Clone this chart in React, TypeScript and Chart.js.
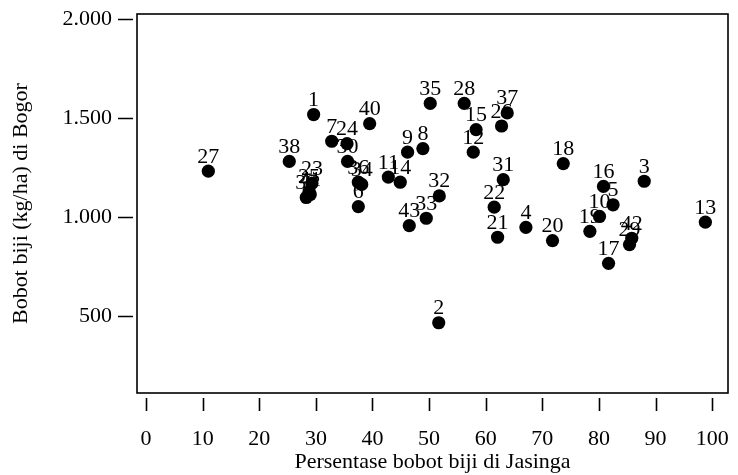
import React, { useEffect, useRef } from "react";
import { Chart, registerables } from "chart.js";

Chart.register(...registerables);

// Genotype numbers (point labels)
const genotypeIds = [
  1, 2, 3, 4, 5, 6, 7, 8, 9, 10, 11, 12, 13, 14, 15, 16, 17, 18, 19, 20, 21,
  22, 23, 24, 25, 26, 27, 28, 29, 30, 31, 32, 33, 34, 35, 36, 37, 38, 39, 40,
  41, 42, 43,
];

// Persentase bobot biji di Jasinga (%)
const jasingaPct = [
  29.6, 51.7, 88.0, 67.1, 82.5, 37.5, 32.8, 48.9, 46.2, 80.1, 42.8, 57.8, 98.8,
  44.9, 58.3, 80.8, 81.7, 73.7, 78.4, 71.8, 62.1, 61.5, 29.3, 35.5, 28.8, 62.8,
  11.0, 56.2, 85.4, 35.6, 63.1, 51.8, 49.5, 38.1, 50.2, 37.5, 63.8, 25.3, 28.3,
  39.5, 29.0, 85.8, 46.5,
];

// Bobot biji (kg/ha) di Bogor
const bogorYield = [
  1517, 465, 1180, 947, 1061, 1052, 1382, 1345, 1327, 1002, 1201, 1327, 973,
  1175, 1441, 1154, 765, 1269, 927, 880, 897, 1049, 1169, 1370, 1128, 1459,
  1231, 1573, 860, 1280, 1188, 1106, 993, 1164, 1573, 1175, 1525, 1280, 1098,
  1471, 1113, 892, 956,
];

const xTickValues = [0, 10, 20, 30, 40, 50, 60, 70, 80, 90, 100];
const yTickValues = [500, 1000, 1500, 2000];
const yTickLabels = ["500", "1.000", "1.500", "2.000"];

const xTitle = "Persentase bobot biji di Jasinga";
const yTitle = "Bobot biji (kg/ha) di Bogor";

const FONT_FAMILY = '"Liberation Serif", "Times New Roman", serif';
const FONT_SIZE = 22;

const framePlugin = {
  id: "frameAndLabels",
  beforeDatasetsDraw(chart: any) {
    const { ctx, chartArea: a, scales } = chart;
    ctx.save();
    ctx.strokeStyle = "#000";
    ctx.lineWidth = 1.6;
    ctx.strokeRect(a.left, a.top, a.right - a.left, a.bottom - a.top);
    ctx.beginPath();
    for (const v of xTickValues) {
      const px = Math.round(scales.x.getPixelForValue(v)) + 0.5;
      ctx.moveTo(px, a.bottom + 5);
      ctx.lineTo(px, a.bottom + 18);
    }
    for (const v of yTickValues) {
      const py = Math.round(scales.y.getPixelForValue(v)) + 0.5;
      ctx.moveTo(a.left - 19, py);
      ctx.lineTo(a.left - 4, py);
    }
    ctx.stroke();

    // point labels (drawn beneath the dots)
    ctx.fillStyle = "#000";
    ctx.font = `${FONT_SIZE}px ${FONT_FAMILY}`;
    ctx.textAlign = "center";
    ctx.textBaseline = "alphabetic";
    const meta = chart.getDatasetMeta(0);
    meta.data.forEach((pt: any, i: number) => {
      ctx.fillText(String(genotypeIds[i]), pt.x, pt.y - 8.5);
    });
    ctx.restore();
  },
};

export default function App() {
  const canvasRef = useRef<HTMLCanvasElement | null>(null);

  useEffect(() => {
    if (!canvasRef.current) return;
    const points = jasingaPct.map((x, i) => ({ x, y: bogorYield[i] }));
    const font = { family: FONT_FAMILY, size: FONT_SIZE };
    const chart = new Chart(canvasRef.current, {
      type: "scatter",
      data: {
        datasets: [
          {
            data: points,
            backgroundColor: "#000",
            borderWidth: 0,
            pointRadius: 6.6,
            pointHoverRadius: 6.6,
          },
        ],
      },
      options: {
        animation: false,
        responsive: false,
        devicePixelRatio: 1,
        layout: { padding: { top: 14, right: 10, left: 0, bottom: 0 } },
        plugins: {
          legend: { display: false },
          tooltip: { enabled: false },
        },
        scales: {
          x: {
            type: "linear",
            min: -1.6,
            max: 102.8,
            afterBuildTicks: (s: any) => {
              s.ticks = xTickValues.map((v) => ({ value: v }));
            },
            afterFit: (s: any) => {
              s.height = 82;
              s.paddingLeft = 0;
              s.paddingRight = 0;
            },
            ticks: {
              font,
              color: "#000",
              padding: 14,
              maxRotation: 0,
              autoSkip: false,
              callback: (v: any) => String(v),
            },
            grid: {
              display: true,
              drawOnChartArea: false,
              drawTicks: true,
              tickLength: 19,
              color: "rgba(0,0,0,0)",
            },
            border: { display: false },
            title: {
              display: true,
              text: xTitle,
              font,
              color: "#000",
              padding: { top: 0, bottom: 0 },
            },
          },
          y: {
            type: "linear",
            min: 110,
            max: 2025,
            afterBuildTicks: (s: any) => {
              s.ticks = yTickValues.map((v) => ({ value: v }));
            },
            afterFit: (s: any) => {
              s.width = 137;
              s.paddingTop = 0;
              s.paddingBottom = 0;
            },
            ticks: {
              font,
              color: "#000",
              padding: 6,
              autoSkip: false,
              callback: (v: any) => {
                const idx = yTickValues.indexOf(Number(v));
                return idx >= 0 ? yTickLabels[idx] : "";
              },
            },
            grid: {
              display: true,
              drawOnChartArea: false,
              drawTicks: true,
              tickLength: 19,
              color: "rgba(0,0,0,0)",
            },
            border: { display: false },
            title: {
              display: true,
              text: yTitle,
              font,
              color: "#000",
              padding: { top: 8, bottom: 0 },
            },
          },
        },
      },
      plugins: [framePlugin],
    } as any);
    return () => chart.destroy();
  }, []);

  return (
    <div style={{ position: "fixed", left: 0, top: 0, width: 738, height: 475, background: "#fff" }}>
      <canvas ref={canvasRef} width={738} height={475} style={{ width: 738, height: 475 }} />
    </div>
  );
}
